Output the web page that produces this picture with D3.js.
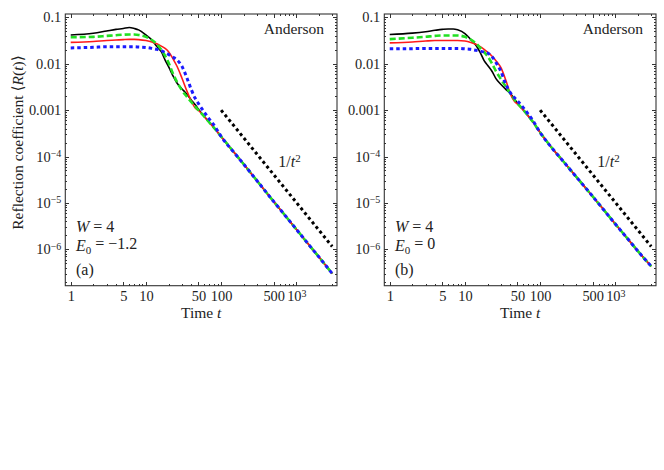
<!DOCTYPE html>
<html lang="en">
  <head>
    <meta charset="UTF-8">
    <script type="text/javascript" src="https://d3js.org/d3.v7.min.js"></script>
    <style>
      body { margin: 0; background: #fff; }
      svg text { font-family: "Liberation Serif", "DejaVu Serif", serif; fill: #222; }
      .axis line { stroke: #333; shape-rendering: crispEdges; }
      .axis text { font-size: 14.4px; fill: #222; }
    </style>
    <title>Reflection coefficient</title>
  </head>
  <body>
    <script type="text/javascript">
      // time grid (curves differ only up to t ~ 80)
      const tHead = [1, 2, 3, 4, 5, 6, 7, 8, 10, 12, 14, 16, 18, 20, 23, 26, 30, 35, 40, 45, 50, 60, 70, 80];
      const tTail = [100, 150, 200, 300, 500, 700, 1000, 1500, 2000, 3000];

      // panel (a): E0 = -1.2
      const blackA = [0.0417, 0.0452, 0.0507, 0.0550, 0.0575, 0.0603, 0.0575, 0.0537, 0.0417, 0.0324, 0.0234, 0.0182,
                      0.0120, 0.0087, 0.0054, 0.0038, 0.0029, 0.0022, 0.00166, 0.00132, 0.00105, 0.00072, 0.00054, 0.00042];
      const redA   = [0.0288, 0.0302, 0.0316, 0.0324, 0.0331, 0.0335, 0.0335, 0.0331, 0.0316, 0.0295, 0.0269, 0.0240,
                      0.0214, 0.0182, 0.0126, 0.0087, 0.0050, 0.0026, 0.00158, 0.00112, 0.00098, 0.00072, 0.00054, 0.00042];
      const greenA = [0.0372, 0.0380, 0.0398, 0.0412, 0.0422, 0.0427, 0.0427, 0.0417, 0.0380, 0.0324, 0.0263, 0.0200,
                      0.0148, 0.0105, 0.0060, 0.0040, 0.0027, 0.00195, 0.0015, 0.0012, 0.0010, 0.00072, 0.00054, 0.00042];
      const blueA  = [0.0219, 0.0226, 0.0232, 0.0232, 0.0232, 0.0232, 0.0232, 0.0229, 0.0224, 0.0214, 0.0204, 0.0191,
                      0.0174, 0.0158, 0.0138, 0.0120, 0.0089, 0.0050, 0.0028, 0.00182, 0.00138, 0.00089, 0.00063, 0.00048];
      const tailA  = [2.7e-4, 1.2e-4, 6.8e-5, 3.0e-5, 1.07e-5, 5.5e-6, 2.7e-6, 1.2e-6, 6.8e-7, 3.0e-7];

      // panel (b): E0 = 0
      const blackB = [0.0427, 0.0457, 0.0490, 0.0525, 0.0550, 0.0562, 0.0562, 0.0537, 0.0447, 0.0331, 0.0251, 0.0174,
                      0.0117, 0.0093, 0.0068, 0.0047, 0.0036, 0.0028, 0.0023, 0.00178, 0.0014, 0.0010, 0.00074, 0.00056];
      const redB   = [0.0282, 0.0295, 0.0309, 0.0316, 0.0316, 0.0316, 0.0316, 0.0316, 0.0309, 0.0288, 0.0263, 0.0234,
                      0.0204, 0.0178, 0.0145, 0.0115, 0.0083, 0.0044, 0.0023, 0.00158, 0.00135, 0.0010, 0.00074, 0.00056];
      const greenB = [0.0339, 0.0363, 0.0380, 0.0398, 0.0407, 0.0407, 0.0407, 0.0407, 0.0380, 0.0331, 0.0275, 0.0219,
                      0.0178, 0.0145, 0.0100, 0.0068, 0.0047, 0.0032, 0.0023, 0.00174, 0.0014, 0.0010, 0.00074, 0.00056];
      const blueB  = [0.0209, 0.0211, 0.0214, 0.0214, 0.0214, 0.0214, 0.0214, 0.0214, 0.0209, 0.0204, 0.0195, 0.0186,
                      0.0178, 0.0170, 0.0141, 0.0105, 0.0069, 0.0036, 0.0024, 0.0019, 0.00158, 0.00112, 0.00081, 0.00060];
      const tailB  = [3.3e-4, 1.4e-4, 8.1e-5, 3.7e-5, 1.38e-5, 7.1e-6, 3.5e-6, 1.6e-6, 9.1e-7, 4.3e-7];

      // 1/t^2 guide line end points
      const guideT = [100, 3000];
      const guideR = [1.0e-3, 1.15e-6];

      const xTickVals = [1, 5, 10, 50, 100, 500, 1000];
      const yTickVals = [0.1, 0.01, 0.001, 1e-4, 1e-5, 1e-6];
      const yTickLabels = ['0.1', '0.01', '0.001', '10|−4', '10|−5', '10|−6'];

      let w = 664, h = 470;
      let frameTop = 14, pw = 271.7, ph = 271.7;
      let serif = '"Liberation Serif", "DejaVu Serif", serif';

      let svg = d3.select('body').append('svg')
                  .attr('width', w)
                  .attr('height', h)
                  .attr('font-family', serif);

      let xScale = d3.scaleLog().domain([0.847, 3475]).range([0, pw]);
      let yScale = d3.scaleLog().domain([1.64e-7, 0.118]).range([ph, 0]);

      let xMinor = xScale.ticks().filter(v => xTickVals.indexOf(v) < 0 && v >= 1);
      let yMinor = yScale.ticks().filter(v => {
        let m = v / Math.pow(10, Math.floor(Math.log10(v) + 1e-9));
        return Math.abs(m - 1) > 1e-6;
      });

      let line = d3.line()
                   .x(d => xScale(d[0]))
                   .y(d => yScale(d[1]))
                   .curve(d3.curveMonotoneX);

      function series(vals, tail) {
        return tHead.map((t, i) => [t, vals[i]]).concat(tTail.map((t, i) => [t, tail[i]]));
      }

      let panels = [
        { x0: 65.3, e0: '−1.2', tag: '(a)', black: blackA, red: redA, green: greenA, blue: blueA, tail: tailA },
        { x0: 384.3, e0: '0', tag: '(b)', black: blackB, red: redB, green: greenB, blue: blueB, tail: tailB }
      ];

      panels.forEach(p => {
        let g = svg.append('g').attr('transform', 'translate(' + p.x0 + ',' + frameTop + ')');

        // curves
        let styles = [
          { d: p.black, c: '#000', wd: 1.6, dash: null },
          { d: p.red, c: '#ff1a1a', wd: 1.6, dash: null },
          { d: p.green, c: '#22e022', wd: 2.6, dash: '6,3' },
          { d: p.blue, c: '#1a1aff', wd: 3, dash: '3.5,3' }
        ];
        styles.forEach(s => {
          g.append('path')
            .datum(series(s.d, p.tail))
            .attr('d', line)
            .attr('fill', 'none')
            .attr('stroke', s.c)
            .attr('stroke-width', s.wd)
            .attr('stroke-dasharray', s.dash);
        });

        g.append('path')
          .datum(guideT.map((t, i) => [t, guideR[i]]))
          .attr('d', d3.line().x(d => xScale(d[0])).y(d => yScale(d[1])))
          .attr('fill', 'none')
          .attr('stroke', '#000')
          .attr('stroke-width', 3)
          .attr('stroke-dasharray', '3,3');

        // frame
        g.append('rect')
          .attr('width', pw).attr('height', ph)
          .attr('fill', 'none')
          .attr('stroke', '#333')
          .attr('stroke-width', 1.1);

        // minor ticks
        g.append('g').attr('class', 'axis').attr('transform', 'translate(0,' + ph + ')')
          .call(d3.axisBottom(xScale).tickValues(xMinor).tickSize(-2).tickFormat(''));
        g.append('g').attr('class', 'axis')
          .call(d3.axisTop(xScale).tickValues(xMinor).tickSize(-2).tickFormat(''));
        g.append('g').attr('class', 'axis')
          .call(d3.axisLeft(yScale).tickValues(yMinor).tickSize(-2).tickFormat(''));
        g.append('g').attr('class', 'axis').attr('transform', 'translate(' + pw + ',0)')
          .call(d3.axisRight(yScale).tickValues(yMinor).tickSize(-2).tickFormat(''));

        // major ticks
        let xAxis = g.append('g').attr('class', 'axis').attr('transform', 'translate(0,' + ph + ')')
          .call(d3.axisBottom(xScale).tickValues(xTickVals).tickSize(-4).tickPadding(5)
                  .tickFormat(d => d === 1000 ? '' : String(d)));
        xAxis.selectAll('text').filter(d => d === 1000).each(function() {
          let t = d3.select(this);
          t.append('tspan').text('10');
          t.append('tspan').attr('dy', '-0.42em').attr('font-size', '10px').text('3');
        });
        g.append('g').attr('class', 'axis')
          .call(d3.axisTop(xScale).tickValues(xTickVals).tickSize(-4).tickFormat(''));

        let yAxis = g.append('g').attr('class', 'axis')
          .call(d3.axisLeft(yScale).tickValues(yTickVals).tickSize(-4).tickPadding(4)
                  .tickFormat((d, i) => yTickLabels[i].indexOf('|') < 0 ? yTickLabels[i] : ''));
        yAxis.selectAll('text').each(function(d, i) {
          let parts = yTickLabels[i].split('|');
          if (parts.length < 2) return;
          let t = d3.select(this);
          t.append('tspan').text(parts[0]);
          t.append('tspan').attr('dy', '-0.45em').attr('font-size', '10px').text(parts[1]);
        });
        g.append('g').attr('class', 'axis').attr('transform', 'translate(' + pw + ',0)')
          .call(d3.axisRight(yScale).tickValues(yTickVals).tickSize(-4).tickFormat(''));

        g.selectAll('.axis .domain').remove();
        g.selectAll('.axis').attr('font-family', serif);

        // annotations
        g.append('text').attr('x', pw - 13).attr('y', 20)
          .attr('text-anchor', 'end').attr('font-size', '15.5px').text('Anderson');

        let t1 = g.append('text').attr('x', 213).attr('y', 153).attr('font-size', '16px');
        t1.append('tspan').text('1/');
        t1.append('tspan').attr('font-style', 'italic').text('t');
        t1.append('tspan').attr('dy', '-0.45em').attr('font-size', '11px').text('2');

        let tw = g.append('text').attr('x', 10.7).attr('y', 217.5).attr('font-size', '16px');
        tw.append('tspan').attr('font-style', 'italic').text('W');
        tw.append('tspan').text(' = 4');

        let te = g.append('text').attr('x', 10.7).attr('y', 236.5).attr('font-size', '16px');
        te.append('tspan').attr('font-style', 'italic').text('E');
        te.append('tspan').attr('dy', '0.3em').attr('font-size', '11px').text('0');
        te.append('tspan').attr('dy', '-0.3em').attr('font-size', '16px').text(' = ' + p.e0);

        g.append('text').attr('x', 10.7).attr('y', 261).attr('font-size', '16px').text(p.tag);

        let tt = g.append('text').attr('x', pw / 2).attr('y', 304)
          .attr('text-anchor', 'middle').attr('font-size', '15.5px');
        tt.append('tspan').text('Time ');
        tt.append('tspan').attr('font-style', 'italic').text('t');
      });

      // y axis title (left panel only)
      let yl = svg.append('text')
                  .attr('transform', 'translate(23,142.5) rotate(-90)')
                  .attr('text-anchor', 'middle')
                  .attr('font-size', '15.5px');
      yl.append('tspan').text('Reflection coefficient ⟨');
      yl.append('tspan').attr('font-style', 'italic').text('R');
      yl.append('tspan').text('(');
      yl.append('tspan').attr('font-style', 'italic').text('t');
      yl.append('tspan').text(')⟩');
    </script>
  </body>
</html>
